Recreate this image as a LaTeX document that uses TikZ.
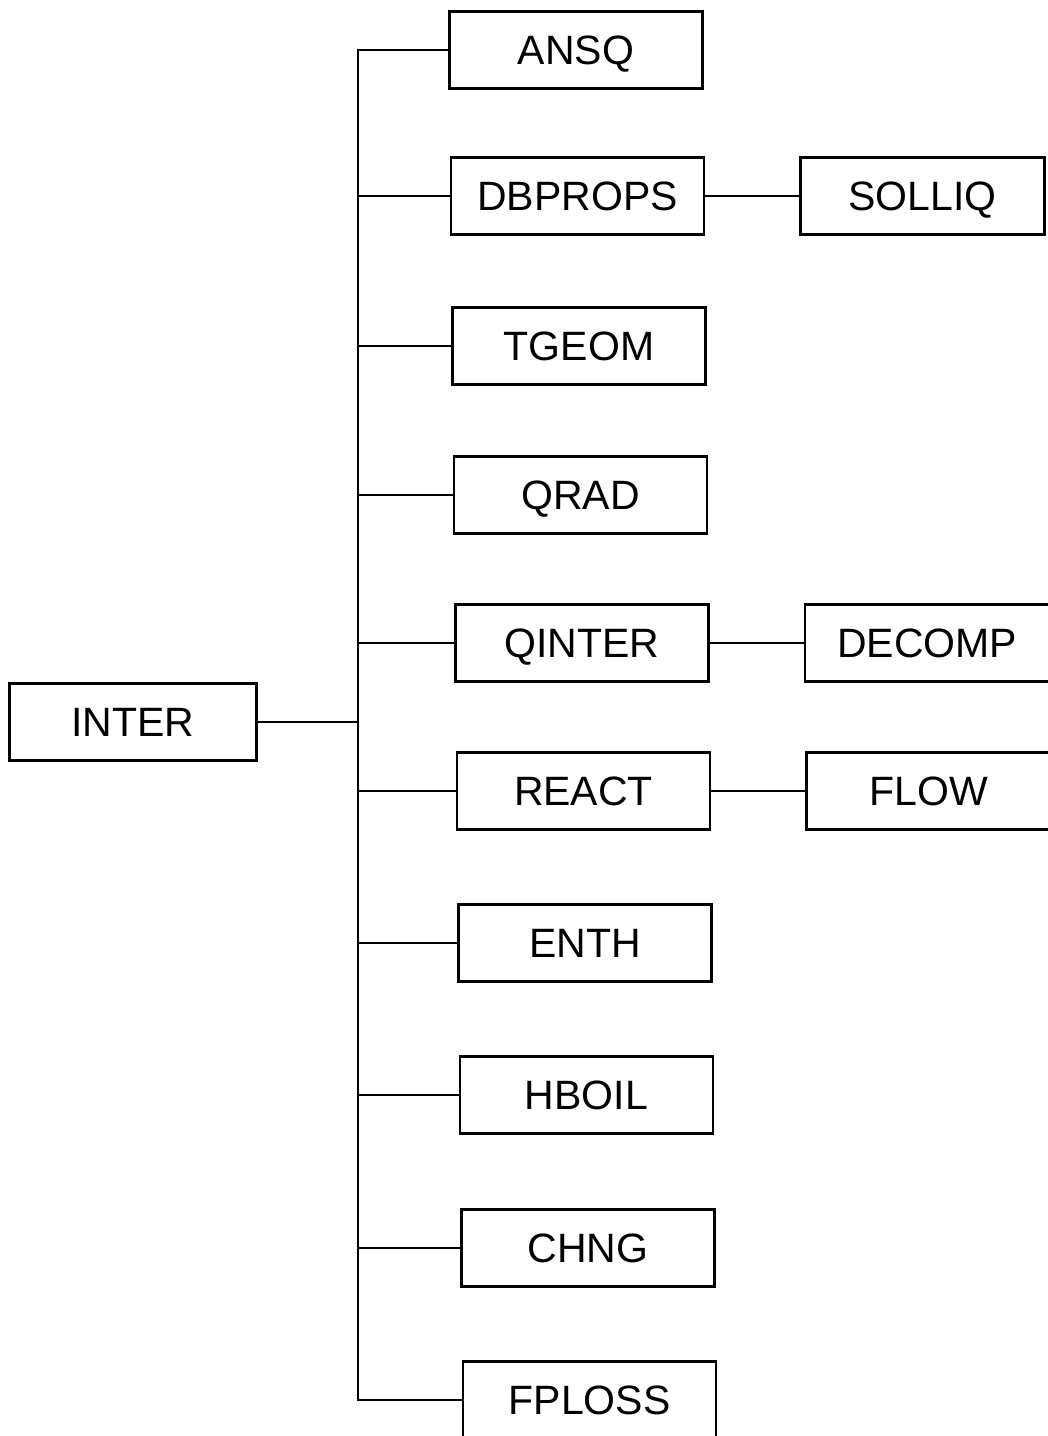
\documentclass[tikz,border=0pt]{standalone}
\usepackage{fontspec}
\setmainfont{Liberation Sans}
\usetikzlibrary{positioning}

\begin{document}
\begin{tikzpicture}[x=1pt, y=-1pt, line width=2.6pt,
  box/.style={draw, minimum width=253pt, minimum height=77pt, inner sep=0pt,
    text height=29pt, text depth=0pt, font=\fontsize{41}{41}\selectfont},
  sub/.style={box, minimum width=244pt}]
\clip (0,0) rectangle (1048,1436);

\node[box] (ansq) at (576,50) {ANSQ};
\node[box, below=66.4pt of ansq, xshift=1.5pt] (dbprops) {DBPROPS};
\node[box, below=70.4pt of dbprops, xshift=1.5pt] (tgeom) {TGEOM};
\node[box, below=69.4pt of tgeom, xshift=1.5pt] (qrad) {QRAD};
\node[box, below=68.4pt of qrad, xshift=1.5pt] (qinter) {QINTER};
\node[box, below=68.4pt of qinter, xshift=1.5pt] (react) {REACT};
\node[box, below=72.4pt of react, xshift=1.5pt] (enth) {ENTH};
\node[box, below=72.4pt of enth, xshift=1.5pt] (hboil) {HBOIL};
\node[box, below=73.4pt of hboil, xshift=1.5pt] (chng) {CHNG};
\node[box, below=72.4pt of chng, xshift=1.5pt] (fploss) {FPLOSS};

\node[sub, right=94pt of dbprops] (solliq) {SOLLIQ};
\node[sub, right=94pt of qinter] (decomp) {DECOMP};
\node[sub, right=94pt of react] (flow) {FLOW};

\node[box, minimum width=247pt] (inter) at (133,722) {INTER};

% bus
\coordinate (bus) at (358,722);
\draw (ansq.west) -| (bus |- fploss.west) -- (fploss.west);
\foreach \n in {dbprops,tgeom,qrad,qinter,react,enth,hboil,chng}
  \draw (\n.west) -- (\n.west -| bus);
\draw (inter.east) -- (bus);

\draw (dbprops) -- (solliq);
\draw (qinter) -- (decomp);
\draw (react) -- (flow);
\end{tikzpicture}
\end{document}
